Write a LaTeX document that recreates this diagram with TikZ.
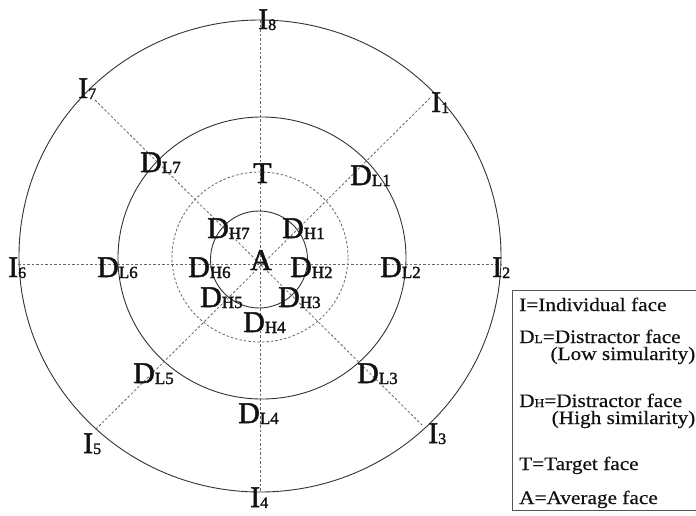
\documentclass[tikz,border=0pt]{standalone}
\usepackage{fontspec}
\setmainfont{Liberation Serif}
\newfontfamily\lblfamily[FakeBold=1.6]{Liberation Serif}
\newfontfamily\legfamily[FakeStretch=1.12,FakeBold=0.5]{Liberation Serif}
\newcommand\bgfont{\lblfamily\fontsize{30}{30}\selectfont}
\newcommand\sbfont{\lblfamily\fontsize{17}{17}\selectfont}
\newcommand\idxfont{\lblfamily\fontsize{16}{16}\selectfont}
\newcommand\legfont{\legfamily\fontsize{19}{19}\selectfont}
\newcommand\legsub{\legfamily\fontsize{12}{12}\selectfont}
\newcommand\dlab[2]{{\bgfont #1}{\sbfont\raisebox{-1pt}{#2}}}
\newcommand\ilab[1]{{\bgfont I}{\idxfont\raisebox{-1pt}{#1}}}
\definecolor{ringcol}{HTML}{333333}
\definecolor{dashcol}{HTML}{666666}
\definecolor{boxcol}{HTML}{555555}
\definecolor{txtcol}{HTML}{111111}
\tikzset{
  ring/.style={draw=ringcol, line width=0.9pt},
  spoke/.style={draw=dashcol, line width=0.8pt, dash pattern=on 2.5pt off 2pt},
  lab/.style={anchor=base west, inner sep=0pt, text=txtcol},
  legtext/.style={anchor=base west, inner sep=0pt, text=txtcol, font=\legfont},
  legbox/.style={draw=boxcol, line width=1pt}
}
\begin{document}
\begin{tikzpicture}[x=1pt,y=-1pt]
\useasboundingbox (0,0) rectangle (696,515);
\fill[white] (0,0) rectangle (696,515);
% rings
\draw[ring] (260,256) ellipse [x radius=241pt, y radius=236pt];
\draw[ring] (262,258) ellipse [x radius=144pt, y radius=141pt];
\draw[spoke] (260,257) ellipse [x radius=88pt, y radius=85pt];
\draw[ring] (259,259.5) ellipse [x radius=48.5pt, y radius=48.5pt];
% spokes
\coordinate (e8) at (260,20);
\coordinate (e4) at (260,492);
\coordinate (e6) at (18,264);
\coordinate (e2) at (502,264);
\coordinate (e1) at (430,98);
\coordinate (e5) at (95,430);
\coordinate (e7) at (95,100);
\coordinate (e3) at (422,425);
\draw[spoke] (e8) -- (e4);
\draw[spoke] (e6) -- (e2);
\draw[spoke] (e1) -- (e5);
\draw[spoke] (e7) -- (e3);
% outer labels
\node[lab] (I8) at (258,29) {\ilab{8}};
\node[lab] (I7) at (78,98) {\ilab{7}};
\node[lab] (I1) at (431,112) {\ilab{1}};
\node[lab] (I6) at (8,277) {\ilab{6}};
\node[lab] (I2) at (492,277) {\ilab{2}};
\node[lab] (I5) at (83,453) {\ilab{5}};
\node[lab] (I3) at (428,443) {\ilab{3}};
\node[lab] (I4) at (250,507) {\ilab{4}};
% low similarity distractors
\node[lab] (DL7) at (140,172) {\dlab{D}{L7}};
\node[lab] (DL1) at (350,185) {\dlab{D}{L1}};
\node[lab] (DL6) at (97,277) {\dlab{D}{L6}};
\node[lab] (DL2) at (380,277) {\dlab{D}{L2}};
\node[lab] (DL5) at (133,383) {\dlab{D}{L5}};
\node[lab] (DL3) at (357,383) {\dlab{D}{L3}};
\node[lab] (DL4) at (238,423) {\dlab{D}{L4}};
% target
\node[lab] (T) at (253,183) {\bgfont T};
% high similarity distractors
\node[lab] (DH7) at (207,238) {\dlab{D}{H7}};
\node[lab] (DH1) at (282,238) {\dlab{D}{H1}};
\node[lab] (DH6) at (188,277) {\dlab{D}{H6}};
\node[lab] (DH2) at (290,277) {\dlab{D}{H2}};
\node[lab] (DH5) at (200,307) {\dlab{D}{H5}};
\node[lab] (DH3) at (278,307) {\dlab{D}{H3}};
\node[lab] (DH4) at (243,332) {\dlab{D}{H4}};
% average
\node[lab] (A) at (250,270) {\bgfont A};
% legend
\draw[legbox] (512.5,290) rectangle (702,510);
\node[legtext] (lg1) at (519,311) {I=Individual face};
\node[legtext] (lg2) at (519,343) {D{\legsub L}=Distractor face};
\node[legtext, anchor=base east] (lg3) at (695.5,360) {(Low simularity)};
\node[legtext] (lg4) at (519,407) {D{\legsub H}=Distractor face};
\node[legtext, anchor=base east] (lg5) at (695.5,424) {(High similarity)};
\node[legtext] (lg6) at (519,470) {T=Target face};
\node[legtext] (lg7) at (519,504) {A=Average face};
\end{tikzpicture}
\end{document}
